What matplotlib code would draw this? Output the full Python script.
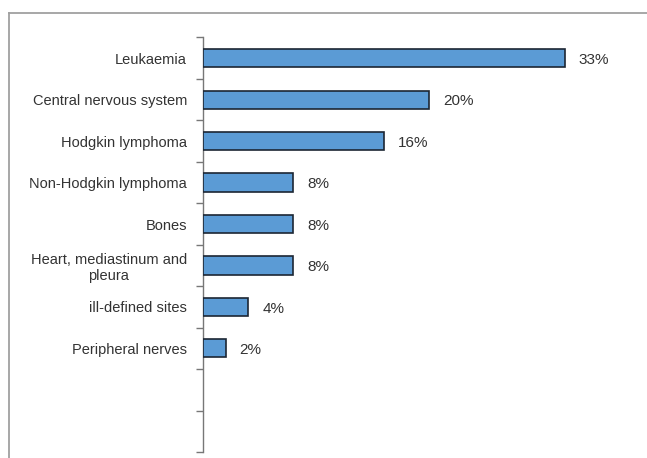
import numpy as np
from matplotlib import pyplot as plt
from matplotlib.lines import Line2D

# data
sites = ["Leukaemia", "Central nervous system", "Hodgkin lymphoma",
         "Non-Hodgkin lymphoma", "Bones", "Heart, mediastinum and\npleura",
         "ill-defined sites", "Peripheral nerves"]
shares = [32.0, 20, 16, 8, 8, 8, 4, 2]
share_labels = ["33%", "20%", "16%", "8%", "8%", "8%", "4%", "2%"]
n_slots = 10  # two empty slots below the last bar

W, H = 647, 458
fig = plt.figure(figsize=(W / 100, H / 100), dpi=100)
fig.patch.set_facecolor("white")

# frame of the original screenshot
fig.add_artist(Line2D([9 / W, 1], [1 - 12.7 / H] * 2, color="#a0a0a0", lw=1.3))
fig.add_artist(Line2D([9 / W] * 2, [0, 1 - 12.7 / H], color="#a0a0a0", lw=1.3))

ax_left, ax_right = 203, 630
ax_top, ax_bottom = 37.5, 452
ax = fig.add_axes([ax_left / W, 1 - ax_bottom / H,
                   (ax_right - ax_left) / W, (ax_bottom - ax_top) / H])

y = np.arange(len(sites))
ax.barh(y, shares, height=0.44, color="#5b9bd5", edgecolor="#1c2633",
        linewidth=1.2, zorder=3)

for yi, v, lab in zip(y, shares, share_labels):
    ax.text(v + 1.25, yi + 0.04, lab, va="center", ha="left", fontsize=11,
            color="#333333", family="Liberation Sans")

ax.set_ylim(n_slots - 0.5, -0.5)
ax.set_xlim(0, (ax_right - ax_left) / 11.3)

ax.set_yticks(y)
ax.set_yticklabels(sites, fontsize=10.5, color="#333333",
                   family="Liberation Sans", multialignment="center")
ax.tick_params(axis="y", which="major", length=0, pad=11.5)
ax.set_yticks(np.arange(-0.5, n_slots, 1), minor=True)
ax.tick_params(axis="y", which="minor", length=5, width=1, color="#777777",
               direction="out")
ax.set_xticks([])

for side in ["top", "right", "bottom"]:
    ax.spines[side].set_visible(False)
ax.spines["left"].set_color("#777777")
ax.spines["left"].set_linewidth(1)

fig.savefig("out.png", dpi=100)
